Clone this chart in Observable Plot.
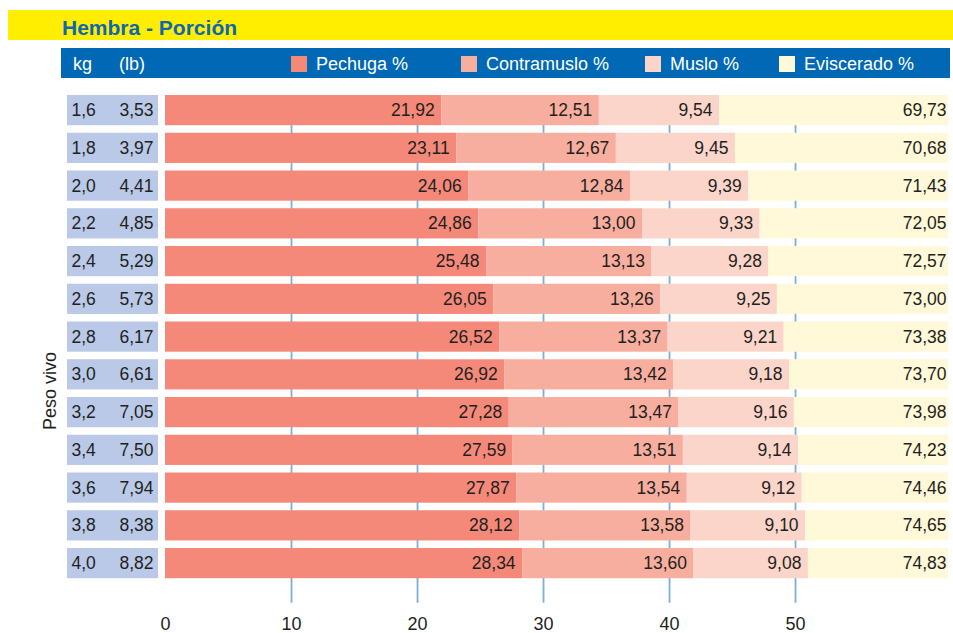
<!DOCTYPE html>
<html><head><meta charset="utf-8">
<script src="https://cdn.jsdelivr.net/npm/d3@7"></script>
<script src="https://cdn.jsdelivr.net/npm/@observablehq/plot@0.6"></script>
<style>
body{margin:0;width:953px;height:633px;position:relative;background:#fff;font-family:"Liberation Sans",Arial,sans-serif;overflow:hidden}
#title{position:absolute;left:8px;top:10px;width:945px;height:29.5px;background:#ffee00}
#title span{position:absolute;left:54px;top:7px;font-weight:bold;font-size:21px;line-height:21px;color:#0d67b1;white-space:nowrap}
#hdr{position:absolute;left:61px;top:48px;width:889px;height:30px;background:#0068b4;color:#fff;font-size:18px;line-height:18px}
#hdr .t{position:absolute;top:7px;white-space:nowrap}
#hdr .sw{position:absolute;top:8px;width:16px;height:16px}
#ylab{position:absolute;left:0;top:382px;width:100px;text-align:center;font-size:18px;line-height:18px;color:#231f20;transform:rotate(-90deg);white-space:nowrap}
#chart{position:absolute;left:0;top:80px}
</style></head>
<body>
<div id="title"><span>Hembra - Porción</span></div>
<div id="hdr"></div>
<div id="ylab">Peso vivo</div>
<div id="chart"></div>
<script>
const kg = ["1,6","1,8","2,0","2,2","2,4","2,6","2,8","3,0","3,2","3,4","3,6","3,8","4,0"];
const lb = ["3,53","3,97","4,41","4,85","5,29","5,73","6,17","6,61","7,05","7,50","7,94","8,38","8,82"];
const pechuga = [21.92,23.11,24.06,24.86,25.48,26.05,26.52,26.92,27.28,27.59,27.87,28.12,28.34];
const contramuslo = [12.51,12.67,12.84,13.00,13.13,13.26,13.37,13.42,13.47,13.51,13.54,13.58,13.60];
const muslo = [9.54,9.45,9.39,9.33,9.28,9.25,9.21,9.18,9.16,9.14,9.12,9.10,9.08];
const eviscerado = [69.73,70.68,71.43,72.05,72.57,73.00,73.38,73.70,73.98,74.23,74.46,74.65,74.83];
const seriesNames = ["Pechuga %","Contramuslo %","Muslo %","Eviscerado %"];
const seriesColors = ["#f4897a","#f8ae9e","#fbd5c9","#fff8d9"];
const xTicks = [0,10,20,30,40,50];
const xMax = 62.14;

const fmt = v => v.toFixed(2).replace(".", ",");

// header
const hdr = document.getElementById("hdr");
const hdrItems = [["kg",12],["(lb)",58]];
hdrItems.forEach(([t,x]) => { const s=document.createElement("span"); s.className="t"; s.style.left=x+"px"; s.textContent=t; hdr.appendChild(s); });
const swX = [230,400,584,718];
seriesNames.forEach((n,i) => {
  const sw=document.createElement("span"); sw.className="sw"; sw.style.left=swX[i]+"px"; sw.style.background=seriesColors[i]; hdr.appendChild(sw);
  const s=document.createElement("span"); s.className="t"; s.style.left=(swX[i]+25)+"px"; s.textContent=n; hdr.appendChild(s);
});

const rows = kg.map((k,i) => ({kg:k, lb:lb[i]}));
const segs = [];
kg.forEach((k,i) => {
  const a = pechuga[i], b = a + contramuslo[i], c = b + muslo[i];
  segs.push({kg:k, s:seriesNames[0], x1:0, x2:a, label:fmt(pechuga[i]), end:false});
  segs.push({kg:k, s:seriesNames[1], x1:a, x2:b, label:fmt(contramuslo[i]), end:false});
  segs.push({kg:k, s:seriesNames[2], x1:b, x2:c, label:fmt(muslo[i]), end:false});
  segs.push({kg:k, s:seriesNames[3], x1:c, x2:xMax, label:fmt(eviscerado[i]), end:true});
});

const cellMark = Plot.dot(rows, {y:"kg", frameAnchor:"left", render(index, scales, values, dims) {
  const hasBand = scales.y && scales.y.bandwidth;
  const bw = hasBand ? scales.y.bandwidth() : 30;
  const g = d3.create("svg:g");
  for (const i of index) {
    const yy = hasBand ? scales.y(rows[i].kg) : values.y[i] - bw/2;
    g.append("rect").attr("x", dims.marginLeft - 98).attr("width", 91)
      .attr("y", yy).attr("height", bw).attr("fill", "#b9c9e7");
  }
  return g.node();
}});

const txt = {fontSize:17.5, fill:"#231f20"};
const plot = Plot.plot({
  width: 953, height: 553,
  marginLeft: 165, marginRight: 5, marginTop: 7.45, marginBottom: 47.25,
  style: {fontFamily:"Liberation Sans, Arial, sans-serif", fontSize:"18px", color:"#231f20", background:"transparent"},
  x: {domain:[0,xMax], axis:null},
  y: {domain:kg, padding:0.2, round:false, axis:null},
  color: {domain:seriesNames, range:seriesColors},
  marks: [
    Plot.ruleX(xTicks.filter(d=>d>0), {stroke:"#7ab0da", strokeWidth:1.8, insetTop:7.5, insetBottom:-17}),
    Plot.axisX({ticks:xTicks, tickSize:0, tickPadding:31, fontSize:18, label:null, fill:"#231f20", tickFormat:d=>String(d)}),
    cellMark,
    Plot.text(rows, {y:"kg", text:"kg", frameAnchor:"left", dx:-94, textAnchor:"start", ...txt}),
    Plot.text(rows, {y:"kg", text:"lb", frameAnchor:"left", dx:-12, textAnchor:"end", ...txt}),
    Plot.barX(segs, {y:"kg", x1:"x1", x2:"x2", fill:"s"}),
    Plot.text(segs, {y:"kg", x:"x2", text:"label", textAnchor:"end", filter:d=>!d.end, dx:-7, ...txt}),
    Plot.text(segs, {y:"kg", x:"x2", text:"label", textAnchor:"end", filter:d=>d.end, dx:-2, ...txt})
  ]
});
document.getElementById("chart").appendChild(plot);
</script>
</body></html>
